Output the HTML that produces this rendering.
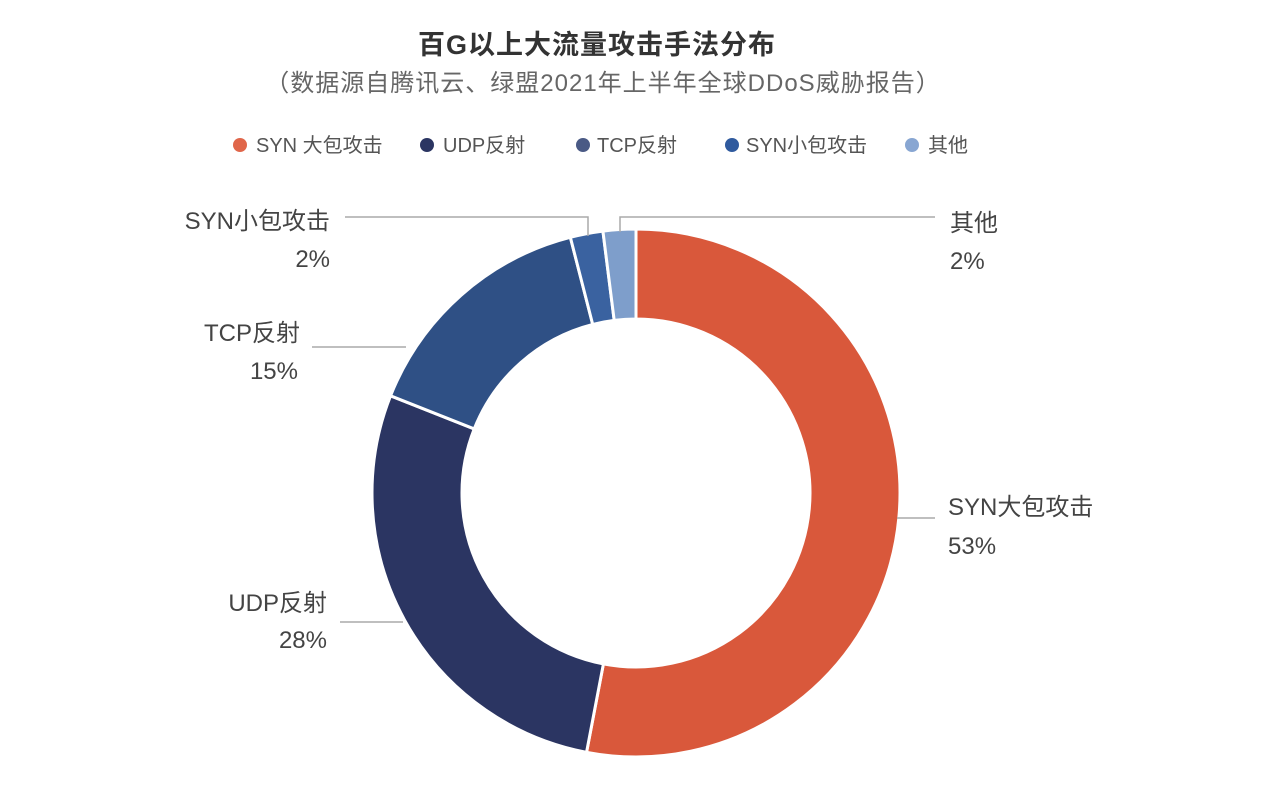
<!DOCTYPE html>
<html><head><meta charset="utf-8"><style>
html,body{margin:0;padding:0;background:#fff;}
svg{display:block;}
text{font-family:"Liberation Sans","Noto Sans CJK SC",sans-serif;}
</style></head><body>
<svg id="s" width="1271" height="797" viewBox="0 0 1271 797" xmlns="http://www.w3.org/2000/svg">
<rect width="1271" height="797" fill="#fff"/>
<text x="597" y="54" text-anchor="middle" font-size="27" fill="#333" font-weight="bold" letter-spacing="1">百G以上大流量攻击手法分布</text>
<text x="603" y="91" text-anchor="middle" font-size="24" fill="#666" letter-spacing="1">（数据源自腾讯云、绿盟2021年上半年全球DDoS威胁报告）</text>
<g font-size="20" fill="#555">
<circle cx="240" cy="145" r="7" fill="#e0664a"/><text x="256" y="152">SYN 大包攻击</text>
<circle cx="427" cy="145" r="7" fill="#2b3562"/><text x="443" y="152">UDP反射</text>
<circle cx="583" cy="145" r="7" fill="#4a5a85"/><text x="597" y="152">TCP反射</text>
<circle cx="732" cy="145" r="7" fill="#2f5a9e"/><text x="746" y="152">SYN小包攻击</text>
<circle cx="912" cy="145" r="7" fill="#88a6d2"/><text x="928" y="152">其他</text>
</g>
<g id="pie"></g>
<g stroke="#aaa" stroke-width="1.5" fill="none">
<polyline points="620,232 620,217 935,217"/>
<polyline points="588,236 588,217 345,217"/>
<line x1="312" y1="347" x2="406" y2="347"/>
<line x1="340" y1="622" x2="403" y2="622"/>
<line x1="897" y1="518" x2="935" y2="518"/>
</g>
<g font-size="24" fill="#444">
<text x="950" y="231">其他</text><text x="950" y="269">2%</text>
<text x="330" y="229" text-anchor="end">SYN小包攻击</text><text x="330" y="267" text-anchor="end">2%</text>
<text x="300" y="341" text-anchor="end">TCP反射</text><text x="298" y="379" text-anchor="end">15%</text>
<text x="327" y="611" text-anchor="end">UDP反射</text><text x="327" y="648" text-anchor="end">28%</text>
<text x="948" y="515">SYN大包攻击</text><text x="948" y="554">53%</text>
</g>
</svg>
<script>
var cx=636,cy=493,R=264,r=174;
var d=[[53,"#d9583b"],[28,"#2b3562"],[15,"#2f5085"],[2,"#3a62a0"],[2,"#7e9ecb"]];
var a=0,g=document.getElementById("pie"),h="";
function p(ang,rad){var t=ang/100*2*Math.PI;return [cx+rad*Math.sin(t),cy-rad*Math.cos(t)];}
d.forEach(function(s){var b=a+s[0];var l=s[0]>50?1:0;
var p1=p(a,R),p2=p(b,R),p3=p(b,r),p4=p(a,r);
h+='<path d="M'+p1+' A'+R+','+R+' 0 '+l+' 1 '+p2+' L'+p3+' A'+r+','+r+' 0 '+l+' 0 '+p4+' Z" fill="'+s[1]+'" stroke="#fff" stroke-width="3"/>';
a=b;});
g.innerHTML=h;
</script>
</body></html>
